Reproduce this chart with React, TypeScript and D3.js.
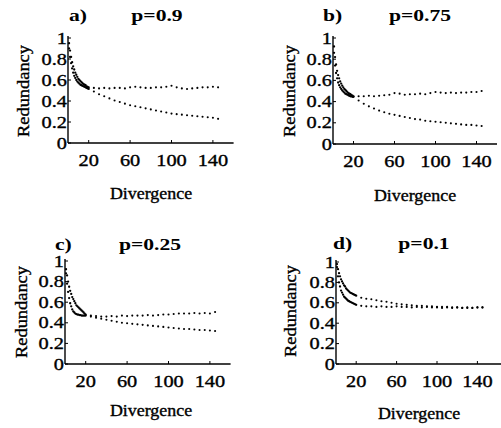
import React, { useRef, useEffect } from 'react';
import * as d3 from 'd3';

// divergence values: dense at the start, every 5 after 20
const earlyX = [1, 2, 3, 4, 5, 6, 7, 8, 9, 10, 11, 12, 13, 14, 15, 16, 17, 18, 19, 20];
const lateX = [25, 30, 35, 40, 45, 50, 55, 60, 65, 70, 75, 80, 85, 90, 95, 100, 105, 110, 115, 120, 125, 130, 135, 140, 145];
const divergence = [...earlyX, ...lateX];

const xTicks = [20, 60, 100, 140];
const yTicks = [0, 0.2, 0.4, 0.6, 0.8, 1];
const yTickLabels = ['0', '0.2', '0.4', '0.6', '0.8', '1'];
const panelLetters = ['a)', 'b)', 'c)', 'd)'];
const panelTitles = ['p=0.9', 'p=0.75', 'p=0.25', 'p=0.1'];

// a) p=0.9
const aUpper = [0.95, 0.88, 0.82, 0.77, 0.73, 0.70, 0.67, 0.65, 0.63, 0.61, 0.60, 0.59, 0.58, 0.57, 0.56, 0.555, 0.55, 0.54, 0.535, 0.53,
  0.525, 0.52, 0.525, 0.52, 0.525, 0.525, 0.52, 0.53, 0.535, 0.53, 0.525, 0.525, 0.53, 0.53, 0.535, 0.545, 0.53, 0.52, 0.515, 0.52, 0.525, 0.53, 0.53, 0.535, 0.53];
const aLower = [0.90, 0.82, 0.76, 0.71, 0.67, 0.64, 0.62, 0.60, 0.585, 0.575, 0.565, 0.555, 0.55, 0.545, 0.54, 0.535, 0.53, 0.525, 0.52, 0.515,
  0.49, 0.465, 0.445, 0.425, 0.405, 0.39, 0.375, 0.36, 0.35, 0.34, 0.33, 0.32, 0.31, 0.30, 0.29, 0.28, 0.275, 0.27, 0.265, 0.26, 0.255, 0.25, 0.245, 0.24, 0.23];

// b) p=0.75
const bUpper = [0.92, 0.82, 0.75, 0.69, 0.65, 0.62, 0.59, 0.57, 0.55, 0.535, 0.52, 0.51, 0.50, 0.49, 0.48, 0.475, 0.47, 0.46, 0.455, 0.45,
  0.45, 0.45, 0.455, 0.45, 0.455, 0.46, 0.465, 0.48, 0.475, 0.465, 0.47, 0.47, 0.475, 0.47, 0.48, 0.49, 0.485, 0.48, 0.485, 0.48, 0.485, 0.485, 0.49, 0.49, 0.50];
const bLower = [0.86, 0.74, 0.67, 0.62, 0.58, 0.555, 0.535, 0.52, 0.505, 0.495, 0.485, 0.475, 0.47, 0.465, 0.46, 0.455, 0.45, 0.45, 0.445, 0.445,
  0.41, 0.38, 0.355, 0.335, 0.315, 0.30, 0.285, 0.275, 0.265, 0.255, 0.245, 0.235, 0.23, 0.22, 0.215, 0.21, 0.205, 0.20, 0.195, 0.19, 0.185, 0.18, 0.18, 0.175, 0.17];

// c) p=0.25
const cUpper = [0.92, 0.86, 0.80, 0.75, 0.71, 0.68, 0.65, 0.63, 0.61, 0.59, 0.57, 0.56, 0.55, 0.54, 0.53, 0.52, 0.51, 0.50, 0.49, 0.48,
  0.47, 0.465, 0.46, 0.46, 0.465, 0.46, 0.47, 0.465, 0.47, 0.47, 0.47, 0.475, 0.47, 0.475, 0.48, 0.48, 0.485, 0.49, 0.49, 0.49, 0.495, 0.49, 0.495, 0.49, 0.505];
const cLower = [0.88, 0.78, 0.70, 0.64, 0.59, 0.56, 0.53, 0.51, 0.50, 0.49, 0.485, 0.48, 0.48, 0.475, 0.475, 0.47, 0.47, 0.47, 0.47, 0.47,
  0.46, 0.45, 0.44, 0.43, 0.42, 0.41, 0.40, 0.395, 0.39, 0.385, 0.38, 0.375, 0.37, 0.365, 0.36, 0.355, 0.35, 0.345, 0.34, 0.34, 0.335, 0.33, 0.33, 0.325, 0.32];

// d) p=0.1
const dUpper = [0.98, 0.93, 0.89, 0.86, 0.83, 0.81, 0.79, 0.77, 0.76, 0.74, 0.73, 0.72, 0.71, 0.70, 0.695, 0.69, 0.685, 0.68, 0.675, 0.67,
  0.65, 0.64, 0.635, 0.625, 0.615, 0.61, 0.60, 0.59, 0.585, 0.58, 0.575, 0.57, 0.57, 0.565, 0.565, 0.56, 0.56, 0.56, 0.555, 0.555, 0.55, 0.555, 0.55, 0.555, 0.555];
const dLower = [0.95, 0.86, 0.80, 0.76, 0.72, 0.70, 0.68, 0.66, 0.65, 0.64, 0.63, 0.62, 0.615, 0.61, 0.605, 0.60, 0.595, 0.59, 0.585, 0.58,
  0.57, 0.565, 0.565, 0.56, 0.565, 0.56, 0.56, 0.565, 0.56, 0.56, 0.555, 0.56, 0.555, 0.56, 0.555, 0.555, 0.55, 0.555, 0.55, 0.555, 0.55, 0.55, 0.55, 0.555, 0.555];

const seriesByPanel = [[aUpper, aLower], [bUpper, bLower], [cUpper, cLower], [dUpper, dLower]];

// where each panel sits on the page
const layouts = [
  { ox: 68, oy: 143, kx: 1.035, h: 105, xMax: 160, letterX: 69, titleX: 157, titleY: 21, divX: 151, divY: 199, redX: 29, redY: 91 },
  { ox: 333, oy: 144, kx: 1.025, h: 106, xMax: 160, letterX: 323, titleX: 420, titleY: 21, divX: 415, divY: 201, redX: 295, redY: 91 },
  { ox: 65, oy: 364, kx: 1.035, h: 103, xMax: 160, letterX: 55, titleX: 150, titleY: 250, divX: 151, divY: 416, redX: 27, redY: 312 },
  { ox: 336, oy: 364, kx: 1.01, h: 102, xMax: 164, letterX: 333, titleX: 424, titleY: 249, divX: 419, divY: 419, redX: 296, redY: 311 },
];

const W = 501;
const H = 428;
const FONT = '"Liberation Serif", "Times New Roman", "DejaVu Serif", serif';

export default function App() {
  const svgEl = useRef(null);

  useEffect(() => {
    const svg = d3.select(svgEl.current);
    svg.selectAll('*').remove();
    svg.append('rect').attr('width', W).attr('height', H).attr('fill', '#fff');

    const label = (g, x, y, text, opts: any = {}) =>
      g
        .append('text')
        .attr('transform', `translate(${x},${y})${opts.rotate ? ' rotate(-90)' : ''} scale(${opts.stretch || 1.27},1)`)
        .attr('text-anchor', opts.anchor || 'middle')
        .attr('font-family', FONT)
        .attr('font-size', opts.size || 16)
        .attr('font-weight', opts.bold ? 'bold' : 'normal')
        .attr('fill', '#000')
        .attr('stroke', opts.bold ? 'none' : '#000')
        .attr('stroke-width', 0.35)
        .text(text);

    layouts.forEach((L, i) => {
      const g = svg.append('g');
      const x = d3.scaleLinear().domain([0, L.xMax]).range([L.ox, L.ox + L.xMax * L.kx]);
      const y = d3.scaleLinear().domain([0, 1]).range([L.oy, L.oy - L.h]);

      // axes
      g.append('line')
        .attr('x1', x(0)).attr('x2', x(L.xMax))
        .attr('y1', y(0)).attr('y2', y(0))
        .attr('stroke', '#000').attr('stroke-width', 1.4);
      g.append('line')
        .attr('x1', x(0)).attr('x2', x(0))
        .attr('y1', y(0)).attr('y2', y(1.02))
        .attr('stroke', '#000').attr('stroke-width', 1.4);

      g.selectAll('.xt')
        .data(xTicks)
        .enter()
        .append('line')
        .attr('x1', (d) => x(d)).attr('x2', (d) => x(d))
        .attr('y1', y(0)).attr('y2', y(0) - 3)
        .attr('stroke', '#000').attr('stroke-width', 1);
      g.selectAll('.yt')
        .data(yTicks)
        .enter()
        .append('line')
        .attr('x1', x(0)).attr('x2', x(0) + 3)
        .attr('y1', (d) => y(d)).attr('y2', (d) => y(d))
        .attr('stroke', '#000').attr('stroke-width', 1);

      xTicks.forEach((t) => label(g, x(t), y(0) + 23, String(t)));
      yTicks.forEach((t, j) => label(g, x(0) - 1, y(t) + 5.5, yTickLabels[j], { anchor: 'end' }));

      // titles
      label(g, L.letterX, L.titleY, panelLetters[i], { anchor: 'start', bold: true, size: 17 });
      label(g, L.titleX, L.titleY, panelTitles[i], { bold: true, size: 17 });
      label(g, L.divX, L.divY, 'Divergence', { stretch: 1.12 });
      label(g, L.redX, L.redY, 'Redundancy', { rotate: true, stretch: 1.15 });

      // points
      seriesByPanel[i].forEach((vals) => {
        g.selectAll(null)
          .data(vals.map((v, k) => ({ d: divergence[k], v })))
          .enter()
          .append('circle')
          .attr('cx', (p) => x(p.d))
          .attr('cy', (p) => y(p.v))
          .attr('r', (p) => (p.d <= 20 ? 1.15 : 1.05))
          .attr('fill', '#000');
      });
    });
  }, []);

  return (
    <div style={{ position: 'absolute', left: 0, top: 0 }}>
      <svg ref={svgEl} width={W} height={H} style={{ display: 'block' }}></svg>
    </div>
  );
}
